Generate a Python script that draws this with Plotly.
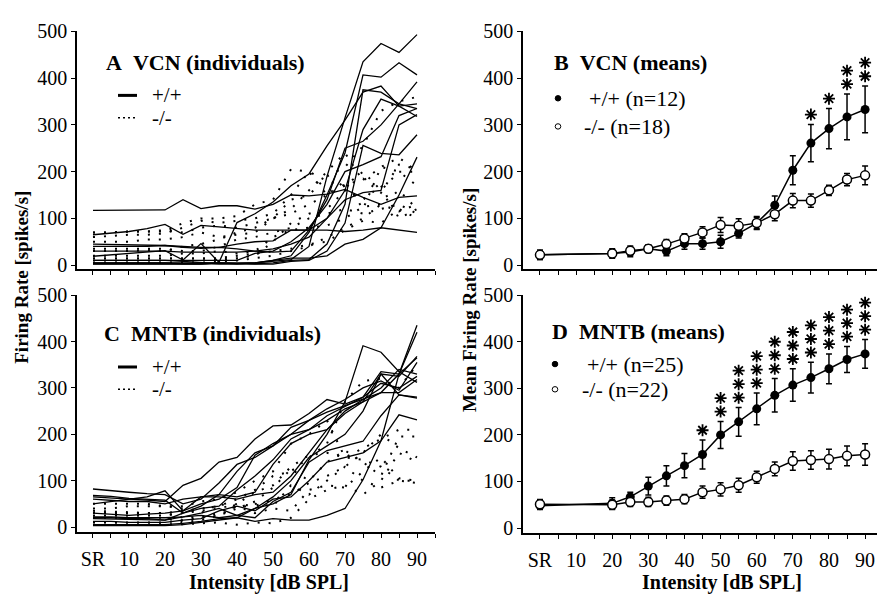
import plotly.graph_objects as go

W, H = 877, 600

# ---------------- DATA ----------------
x_ind = [0, 5, 10, 15, 20, 25, 30, 35, 40, 45, 50, 55, 60, 65, 70, 75, 80, 85, 90]

# Panel A: VCN individuals, +/+ (solid)
vcn_wt_ind = [
    [117, 117, 117, 117, 118, 140, 121, 127, 127, 120, 130, 150, 148, 152, 162, 145, 130, 145, 148],
    [5, 5, 5, 5, 5, 3, 3, 3, 3, 5, 8, 12, 40, 190, 315, 435, 474, 455, 493],
    [10, 10, 10, 10, 10, 8, 5, 3, 3, 5, 10, 20, 70, 150, 240, 407, 402, 433, 407],
    [45, 44, 43, 42, 42, 38, 36, 38, 35, 30, 28, 30, 75, 140, 250, 265, 300, 345, 392],
    [65, 68, 72, 78, 87, 66, 85, 82, 78, 75, 75, 75, 75, 75, 72, 75, 80, 75, 70],
    [19, 22, 25, 28, 31, 11, 46, 6, 91, 110, 135, 170, 195, 255, 310, 370, 383, 340, 345],
    [3, 3, 3, 3, 3, 2, 2, 5, 3, 3, 5, 10, 12, 45, 130, 375, 370, 345, 335],
    [2, 2, 2, 2, 2, 2, 3, 5, 3, 2, 2, 8, 10, 30, 90, 256, 239, 236, 279],
    [30, 30, 30, 30, 30, 28, 28, 28, 28, 30, 35, 45, 60, 100, 140, 155, 160, 300, 322],
    [5, 5, 5, 5, 5, 5, 5, 5, 5, 5, 10, 15, 15, 20, 45, 55, 80, 150, 231],
    [40, 40, 40, 40, 42, 40, 38, 38, 45, 50, 52, 75, 75, 100, 160, 290, 355, 340, 318],
    [10, 10, 10, 10, 10, 10, 10, 10, 10, 25, 30, 50, 80, 130, 200, 215, 232, 320, 335],
]
# Panel A: VCN individuals, -/- (dotted)
vcn_ko_ind = [
    [70, 70, 72, 72, 75, 70, 80, 85, 80, 90, 100, 140, 150, 190, 210, 255, 330, 350, 360],
    [30, 30, 30, 32, 30, 40, 45, 55, 70, 80, 100, 120, 160, 200, 240, 180, 210, 230, 200],
    [50, 50, 50, 55, 55, 60, 70, 60, 65, 70, 100, 110, 130, 150, 170, 200, 160, 200, 200],
    [10, 10, 10, 10, 10, 10, 10, 12, 15, 20, 50, 90, 110, 120, 160, 140, 170, 100, 120],
    [20, 20, 20, 20, 20, 25, 25, 30, 25, 30, 60, 75, 80, 85, 100, 125, 130, 115, 130],
    [5, 5, 5, 5, 5, 5, 5, 8, 10, 15, 20, 30, 40, 60, 80, 100, 130, 160, 120],
    [60, 62, 65, 65, 68, 80, 95, 90, 95, 100, 110, 150, 200, 180, 170, 185, 155, 215, 205],
    [35, 35, 35, 35, 35, 30, 30, 40, 55, 60, 70, 80, 100, 110, 120, 110, 120, 130, 110],
    [15, 15, 15, 15, 15, 15, 15, 15, 20, 25, 30, 35, 45, 50, 75, 95, 90, 120, 100],
    [70, 70, 72, 72, 72, 90, 100, 100, 105, 130, 140, 205, 200, 150, 180, 120, 210, 200, 170],
]

# Panel C: MNTB individuals, +/+ (solid)
mntb_wt_ind = [
    [82, 78, 75, 72, 70, 50, 60, 95, 135, 150, 175, 215, 230, 248, 262, 275, 290, 330, 435],
    [65, 62, 60, 58, 55, 90, 105, 140, 150, 190, 218, 220, 245, 275, 265, 280, 335, 330, 420],
    [50, 55, 60, 65, 78, 35, 65, 70, 65, 75, 135, 180, 200, 210, 245, 270, 330, 325, 368],
    [68, 66, 62, 60, 58, 30, 45, 70, 120, 160, 175, 200, 230, 255, 275, 300, 315, 295, 355],
    [30, 28, 25, 28, 30, 35, 50, 60, 85, 155, 180, 200, 210, 240, 260, 280, 310, 300, 325],
    [20, 20, 18, 18, 15, 30, 40, 45, 80, 110, 145, 190, 210, 230, 255, 270, 290, 290, 318],
    [18, 17, 16, 16, 15, 22, 30, 40, 25, 40, 50, 70, 145, 200, 270, 391, 377, 335, 312],
    [5, 5, 5, 5, 5, 8, 12, 18, 20, 40, 65, 100, 150, 175, 200, 250, 330, 285, 278],
    [12, 12, 10, 10, 10, 15, 18, 35, 45, 35, 60, 65, 100, 140, 150, 160, 186, 242, 231],
    [3, 3, 3, 3, 3, 5, 10, 15, 20, 12, 18, 15, 15, 25, 40, 102, 186, 330, 365],
    [22, 22, 20, 20, 20, 22, 25, 20, 25, 20, 55, 75, 140, 165, 175, 185, 240, 285, 280],
    [60, 58, 55, 55, 50, 60, 65, 65, 60, 70, 75, 110, 160, 210, 250, 275, 300, 340, 330],
]
# Panel C: MNTB individuals, -/- (dotted)
mntb_ko_ind = [
    [30, 30, 30, 30, 30, 35, 40, 45, 60, 80, 110, 120, 150, 180, 270, 315, 320, 300, 350],
    [35, 34, 32, 30, 30, 20, 22, 30, 50, 75, 90, 130, 155, 160, 150, 170, 190, 210, 210],
    [40, 40, 45, 45, 45, 40, 30, 50, 40, 55, 85, 125, 100, 140, 165, 140, 110, 195, 195],
    [5, 5, 5, 5, 5, 6, 8, 10, 5, 10, 8, 20, 60, 80, 90, 70, 100, 160, 140],
    [10, 10, 10, 10, 10, 15, 20, 25, 45, 30, 40, 35, 80, 90, 85, 120, 150, 105, 100],
    [20, 20, 20, 20, 20, 10, 15, 25, 40, 50, 45, 90, 70, 100, 130, 100, 85, 100, 95],
    [50, 50, 50, 50, 45, 45, 55, 60, 75, 100, 120, 180, 200, 230, 150, 145, 130, 100, 100],
    [25, 25, 25, 25, 25, 30, 35, 40, 50, 45, 60, 70, 95, 110, 130, 160, 200, 170, 150],
]

# Means
x_means = [0, 20, 25, 30, 35, 40, 45, 50, 55, 60, 65, 70, 75, 80, 85, 90]
vcn_wt = [22, 25, 28, 35, 30, 46, 46, 50, 68, 90, 128, 203, 261, 292, 317, 333]
vcn_wt_err = [10, 8, 10, 8, 10, 12, 12, 14, 10, 12, 20, 31, 40, 43, 49, 50]
vcn_ko = [22, 25, 31, 35, 45, 57, 70, 86, 84, 90, 109, 138, 138, 160, 183, 192]
vcn_ko_err = [10, 10, 10, 8, 10, 10, 12, 16, 15, 14, 14, 15, 14, 11, 13, 20]
vcn_sig = [0, 0, 0, 0, 0, 0, 0, 0, 0, 0, 0, 0, 1, 1, 2, 2]

mntb_wt = [48, 53, 67, 90, 112, 134, 158, 200, 228, 256, 285, 307, 323, 342, 362, 374]
mntb_wt_err = [8, 12, 10, 19, 22, 26, 31, 29, 31, 34, 36, 35, 33, 32, 28, 31]
mntb_ko = [51, 50, 56, 56, 59, 62, 77, 83, 92, 109, 127, 144, 146, 148, 155, 158]
mntb_ko_err = [10, 10, 10, 10, 10, 10, 13, 14, 15, 13, 15, 20, 20, 21, 21, 23]
mntb_sig = [0, 0, 0, 0, 0, 0, 1, 2, 3, 3, 3, 3, 3, 3, 3, 3]

x_tickvals = [0, 5, 10, 15, 20, 25, 30, 35, 40, 45, 50, 55, 60, 65, 70, 75, 80, 85, 90, 95]
x_ticktext = ["SR", "", "10", "", "20", "", "30", "", "40", "", "50", "", "60", "", "70", "", "80", "", "90", ""]
y_tickvals = [0, 100, 200, 300, 400, 500]

# ---------------- FIGURE ----------------
SERIF = "Liberation Serif, Times New Roman, serif"
fig = go.Figure()

def px_x(p):
    return p / W

def px_y(p):
    return 1 - p / H

solid = dict(color="black", width=1.3)
dotted = dict(color="black", width=2, dash="2px,9px")

for ys in vcn_ko_ind:
    fig.add_trace(go.Scatter(x=x_ind, y=ys, mode="lines", line=dotted, xaxis="x", yaxis="y", showlegend=False))
for ys in vcn_wt_ind:
    fig.add_trace(go.Scatter(x=x_ind, y=ys, mode="lines", line=solid, xaxis="x", yaxis="y", showlegend=False))
for ys in mntb_ko_ind:
    fig.add_trace(go.Scatter(x=x_ind, y=ys, mode="lines", line=dotted, xaxis="x3", yaxis="y3", showlegend=False))
for ys in mntb_wt_ind:
    fig.add_trace(go.Scatter(x=x_ind, y=ys, mode="lines", line=solid, xaxis="x3", yaxis="y3", showlegend=False))

def means(xa, ya, wt, wte, ko, koe, sig):
    fig.add_trace(go.Scatter(
        x=x_means, y=wt, mode="lines+markers", xaxis=xa, yaxis=ya, showlegend=False,
        line=dict(color="black", width=1.5),
        marker=dict(symbol="circle", size=9, color="black"),
        error_y=dict(type="data", array=wte, color="black", thickness=1.5, width=3)))
    fig.add_trace(go.Scatter(
        x=x_means, y=ko, mode="lines+markers", xaxis=xa, yaxis=ya, showlegend=False,
        line=dict(color="black", width=1.5),
        marker=dict(symbol="circle", size=9, color="white", line=dict(color="black", width=1.5)),
        error_y=dict(type="data", array=koe, color="black", thickness=1.5, width=3)))
    sx, sy = [], []
    for xv, m, e, n in zip(x_means, wt, wte, sig):
        for k in range(n):
            sx.append(xv)
            sy.append(m + e + 21 + 29 * k)
    fig.add_trace(go.Scatter(
        x=sx, y=sy, mode="markers", xaxis=xa, yaxis=ya, showlegend=False,
        marker=dict(symbol="asterisk-open", size=10, color="black", line=dict(color="black", width=1.8))))

means("x2", "y2", vcn_wt, vcn_wt_err, vcn_ko, vcn_ko_err, vcn_sig)
means("x4", "y4", mntb_wt, mntb_wt_err, mntb_ko, mntb_ko_err, mntb_sig)

xtickfont = dict(family=SERIF, size=20, color="black")
ytickfont = dict(family=SERIF, size=20, color="black")

def xaxis(domain, rng, anchor, labels):
    return dict(domain=domain, range=rng, anchor=anchor, showline=True, linecolor="black", linewidth=1.5,
                ticks="outside", ticklen=4, tickwidth=1.3, tickcolor="black",
                tickmode="array", tickvals=x_tickvals,
                ticktext=x_ticktext if labels else [""] * len(x_tickvals),
                showgrid=False, zeroline=False, tickfont=xtickfont, ticklabelstandoff=4, fixedrange=True)

def yaxis(domain, rng, anchor):
    return dict(domain=domain, range=rng, anchor=anchor, showline=True, linecolor="black", linewidth=1.5,
                ticks="outside", ticklen=4, tickwidth=1.3, tickcolor="black",
                tickmode="array", tickvals=y_tickvals,
                showgrid=False, zeroline=False, tickfont=ytickfont, ticklabelstandoff=0, fixedrange=True)

left_dom = [px_x(77), px_x(435)]
right_dom = [px_x(523), 1.0]
top_dom = [px_y(266), px_y(21)]
bot_dom = [px_y(537), px_y(293)]

fig.update_layout(
    width=W, height=H, margin=dict(l=0, r=0, t=0, b=0),
    paper_bgcolor="white", plot_bgcolor="white",
    xaxis=xaxis(left_dom, [-4.44, 95], "y", False),
    yaxis=yaxis(top_dom, [-8.3, 500], "x"),
    xaxis2=xaxis(right_dom, [-4.7, 93.3], "y2", False),
    yaxis2=yaxis(top_dom, [-8.3, 500], "x2"),
    xaxis3=xaxis(left_dom, [-4.44, 95], "y3", True),
    yaxis3=yaxis(bot_dom, [-10.5, 500], "x3"),
    xaxis4=xaxis(right_dom, [-4.7, 93.3], "y4", True),
    yaxis4=yaxis([px_y(538), px_y(293)], [-10.4, 500], "x4"),
    font=dict(family=SERIF, color="black"),
)

anns = []
shapes = []

def text(x, y, s, size=19, bold=False, anchor="left", angle=0):
    anns.append(dict(x=px_x(x), y=px_y(y), xref="paper", yref="paper", text=("<b>%s</b>" % s) if bold else s,
                     showarrow=False, xanchor=anchor, yanchor="middle", textangle=angle,
                     font=dict(family=SERIF, size=size, color="black")))

# Panel titles
text(104, 53, "A&nbsp;&nbsp;VCN (individuals)", 22, True)
text(552, 53, "B&nbsp;&nbsp;VCN (means)", 22, True)
text(102, 332, "C&nbsp;&nbsp;MNTB (individuals)", 22, True)
text(550, 330, "D&nbsp;&nbsp;MNTB (means)", 22, True)

# Legends A and C
for ly_solid, ly_dot in [(87, 110), (367, 390)]:
    shapes.append(dict(type="line", xref="paper", yref="paper", x0=px_x(118), x1=px_x(137),
                       y0=px_y(ly_solid), y1=px_y(ly_solid), line=dict(color="black", width=3)))
    shapes.append(dict(type="line", xref="paper", yref="paper", x0=px_x(118), x1=px_x(136),
                       y0=px_y(ly_dot), y1=px_y(ly_dot), line=dict(color="black", width=1.5, dash="2px,3px")))
    text(150, ly_solid, "+/+", 21)
    text(150, ly_dot, "-/-", 21)

# Legends B and D
for cx, y1, y2, t1, t2, tx1, tx2 in [(558, 90, 119, "+/+ (n=12)", "-/- (n=18)", 587, 582),
                                     (555, 364, 390, "+/+ (n=25)", "-/- (n=22)", 585, 580)]:
    r = 2.8
    shapes.append(dict(type="circle", xref="paper", yref="paper", x0=px_x(cx - r), x1=px_x(cx + r),
                       y0=px_y(y1 + r), y1=px_y(y1 - r), fillcolor="black", line=dict(color="black", width=1)))
    shapes.append(dict(type="circle", xref="paper", yref="paper", x0=px_x(cx - r), x1=px_x(cx + r),
                       y0=px_y(y2 + r), y1=px_y(y2 - r), fillcolor="white", line=dict(color="black", width=1)))
    text(tx1, y1, t1, 22)
    text(tx2, y2, t2, 22)

# Axis titles
text(22, 275, "Firing Rate [spikes/s]", 19, True, "center", -90)
text(469, 298, "Mean Firing Rate [spikes/s]", 19, True, "center", -90)
text(269, 589, "Intensity [dB SPL]", 20, True, "center")
text(722, 589, "Intensity [dB SPL]", 20, True, "center")

fig.update_layout(annotations=anns, shapes=shapes)
fig.write_html("out.html")
